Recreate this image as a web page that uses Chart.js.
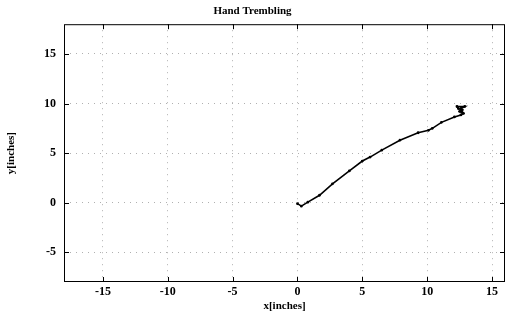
<!DOCTYPE html>
<html>
<head>
<meta charset="utf-8">
<script src="https://cdn.jsdelivr.net/npm/chart.js@4"></script>
<style>
  html, body { margin: 0; padding: 0; background: #fff; }
  #wrap { width: 515px; height: 322px; }
</style>
</head>
<body>
<div id="wrap"><canvas id="trembleChart"></canvas></div>
<script>
const xValues = [0.0, 0.3, 0.8, 1.7, 2.7, 4.0, 5.0, 5.6, 6.5, 7.9, 9.3, 10.1, 10.4, 11.1, 12.1, 12.6, 12.8, 12.5, 12.7, 12.4, 12.3, 12.9, 12.6, 12.7];
const yValues = [-0.1, -0.35, 0.05, 0.75, 1.9, 3.2, 4.2, 4.6, 5.3, 6.3, 7.05, 7.3, 7.5, 8.1, 8.65, 8.85, 9.0, 9.2, 9.35, 9.5, 9.7, 9.7, 9.5, 9.1];
const xTicks = [-15, -10, -5, 0, 5, 10, 15];
const yTicks = [-5, 0, 5, 10, 15];

const points = xValues.map((x, i) => ({ x: x, y: yValues[i] }));

// box round the plot + short inward tick marks, like the old matlab figure
const framePlugin = {
  id: "frame",
  afterDraw(chart) {
    const { ctx, chartArea: a, scales } = chart;
    ctx.save();
    ctx.strokeStyle = "#000";
    ctx.lineWidth = 1;
    ctx.strokeRect(a.left + 0.5, a.top + 0.5, a.right - a.left - 1, a.bottom - a.top - 1);
    const len = 5;
    ctx.beginPath();
    xTicks.forEach((v) => {
      const px = Math.round(scales.x.getPixelForValue(v)) + 0.5;
      ctx.moveTo(px, a.bottom);
      ctx.lineTo(px, a.bottom - len);
      ctx.moveTo(px, a.top);
      ctx.lineTo(px, a.top + len);
    });
    yTicks.forEach((v) => {
      const py = Math.round(scales.y.getPixelForValue(v)) + 0.5;
      ctx.moveTo(a.left, py);
      ctx.lineTo(a.left + len, py);
      ctx.moveTo(a.right, py);
      ctx.lineTo(a.right - len, py);
    });
    ctx.stroke();
    ctx.restore();
  },
};

const tickFont = { family: "'Liberation Serif', 'DejaVu Serif', serif", size: 12, weight: "bold" };

const trembleChart = new Chart(document.getElementById("trembleChart"), {
  type: "scatter",
  data: {
    datasets: [
      {
        label: "path",
        data: points,
        showLine: true,
        borderColor: "#000",
        backgroundColor: "#000",
        borderWidth: 1.6,
        pointRadius: 0.6,
        tension: 0,
      },
    ],
  },
  plugins: [framePlugin],
  options: {
    responsive: true,
    maintainAspectRatio: false,
    animation: false,
    layout: { padding: { left: 0, right: 10, top: 0, bottom: 0 } },
    plugins: {
      legend: { display: false },
      tooltip: { enabled: false },
      title: {
        display: true,
        text: "Hand Trembling",
        color: "#000",
        font: { family: "'Liberation Serif', 'DejaVu Serif', serif", size: 11, weight: "bold", lineHeight: 1.2 },
        padding: { top: 5, bottom: 6 },
      },
    },
    scales: {
      x: {
        type: "linear",
        min: -18,
        max: 16,
        afterBuildTicks: (scale) => {
          scale.ticks = xTicks.map((v) => ({ value: v }));
        },
        afterFit: (scale) => {
          scale.height = 40;
        },
        grid: { color: "#b0b0b0", drawTicks: false, lineWidth: 1 },
        border: { display: false, dash: [1, 5] },
        ticks: { color: "#000", font: tickFont, padding: 3, maxRotation: 0 },
        title: {
          display: true,
          text: "x[inches]",
          color: "#000",
          font: { family: "'Liberation Serif', 'DejaVu Serif', serif", size: 11, weight: "bold", lineHeight: 1.2 },
          padding: { top: 0, bottom: 9 },
        },
      },
      y: {
        type: "linear",
        min: -8,
        max: 18,
        afterBuildTicks: (scale) => {
          scale.ticks = yTicks.map((v) => ({ value: v }));
        },
        afterFit: (scale) => {
          scale.width = 64;
        },
        grid: { color: "#b0b0b0", drawTicks: false, lineWidth: 1 },
        border: { display: false, dash: [1, 5] },
        ticks: { color: "#000", font: tickFont, padding: 8 },
        title: {
          display: true,
          text: "y[inches]",
          color: "#000",
          font: { family: "'Liberation Serif', 'DejaVu Serif', serif", size: 11, weight: "bold", lineHeight: 1.2 },
          padding: { top: 5, bottom: 0 },
        },
      },
    },
  },
});
</script>
</body>
</html>
